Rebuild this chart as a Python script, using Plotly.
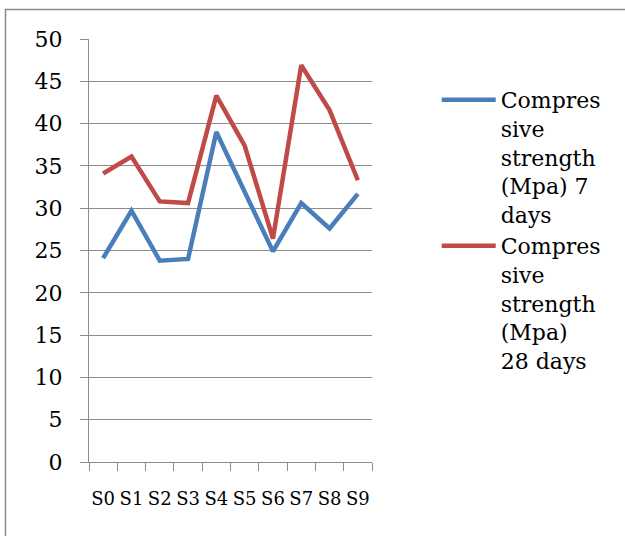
import plotly.graph_objects as go

categories = ["S0", "S1", "S2", "S3", "S4", "S5", "S6", "S7", "S8", "S9"]
strength_7_days = [24.1, 29.7, 23.8, 24.0, 39.0, 32.0, 24.9, 30.6, 27.6, 31.7]
strength_28_days = [34.1, 36.1, 30.8, 30.6, 43.3, 37.4, 26.4, 46.9, 41.6, 33.3]
y_tick_values = [0, 5, 10, 15, 20, 25, 30, 35, 40, 45, 50]
name_7 = "Compres<br>sive<br>strength<br>(Mpa) 7<br>days"
name_28 = "Compres<br>sive<br>strength<br>(Mpa)<br>28 days"

OFF = 0  # page body margin removed by post_script
W, H = 625 - OFF, 536 - OFF
# plot area in screen pixels: x 88.7..371.7, y 39..462
L = 89 - OFF
R = W - (372 - OFF)
T = 39 - OFF
B = H - (462 - OFF)
pw = W - L - R
ph = H - T - B

def px_x(p):
    return (p - OFF - L) / pw

def px_y(p):
    return (H - B - (p - OFF)) / ph

FONT = "DejaVu Serif"
GRID = "#8c8c8c"

fig = go.Figure()
fig.add_trace(go.Scatter(x=categories, y=strength_7_days, mode="lines", name=name_7,
                         line=dict(color="#4a7ebb", width=4.5)))
fig.add_trace(go.Scatter(x=categories, y=strength_28_days, mode="lines", name=name_28,
                         line=dict(color="#be4b48", width=4.5)))

fig.update_layout(
    width=W, height=H,
    margin=dict(l=L, r=R, t=T, b=B, pad=0),
    paper_bgcolor="white", plot_bgcolor="white",
    font=dict(family=FONT, color="black", size=22),
    showlegend=True,
    legend=dict(x=px_x(436.7), y=px_y(79), xanchor="left", yanchor="top",
                font=dict(family=FONT, size=22, color="black"),
                itemwidth=54, valign="top", tracegroupgap=0,
                bgcolor="rgba(0,0,0,0)"),
    xaxis=dict(type="category", range=[-0.5, 9.5], showgrid=False,
               showline=True, linecolor=GRID, linewidth=1.3,
               ticks="outside", ticklen=8, tickcolor=GRID, tickwidth=1.3,
               tickson="boundaries", tickangle=0, tickfont=dict(family=FONT, size=18),
               ticklabelstandoff=20, fixedrange=True),
    yaxis=dict(range=[0, 50], tickvals=y_tick_values, showgrid=True,
               gridcolor=GRID, gridwidth=1.3, zeroline=False,
               showline=True, linecolor=GRID, linewidth=1.3,
               ticks="outside", ticklen=8, tickcolor=GRID, tickwidth=1.3,
               tickfont=dict(family=FONT, size=22),
               ticklabelstandoff=13, fixedrange=True),
    shapes=[dict(type="rect", xref="paper", yref="paper",
                 x0=px_x(5.5), x1=px_x(650), y0=px_y(560), y1=px_y(9.5),
                 line=dict(color="#8a8a8a", width=1.5), fillcolor="rgba(0,0,0,0)",
                 layer="below")],
)

fig.write_html("out.html", config={"displayModeBar": False},
               post_script="document.body.style.margin='0';document.body.style.overflow='hidden';")
